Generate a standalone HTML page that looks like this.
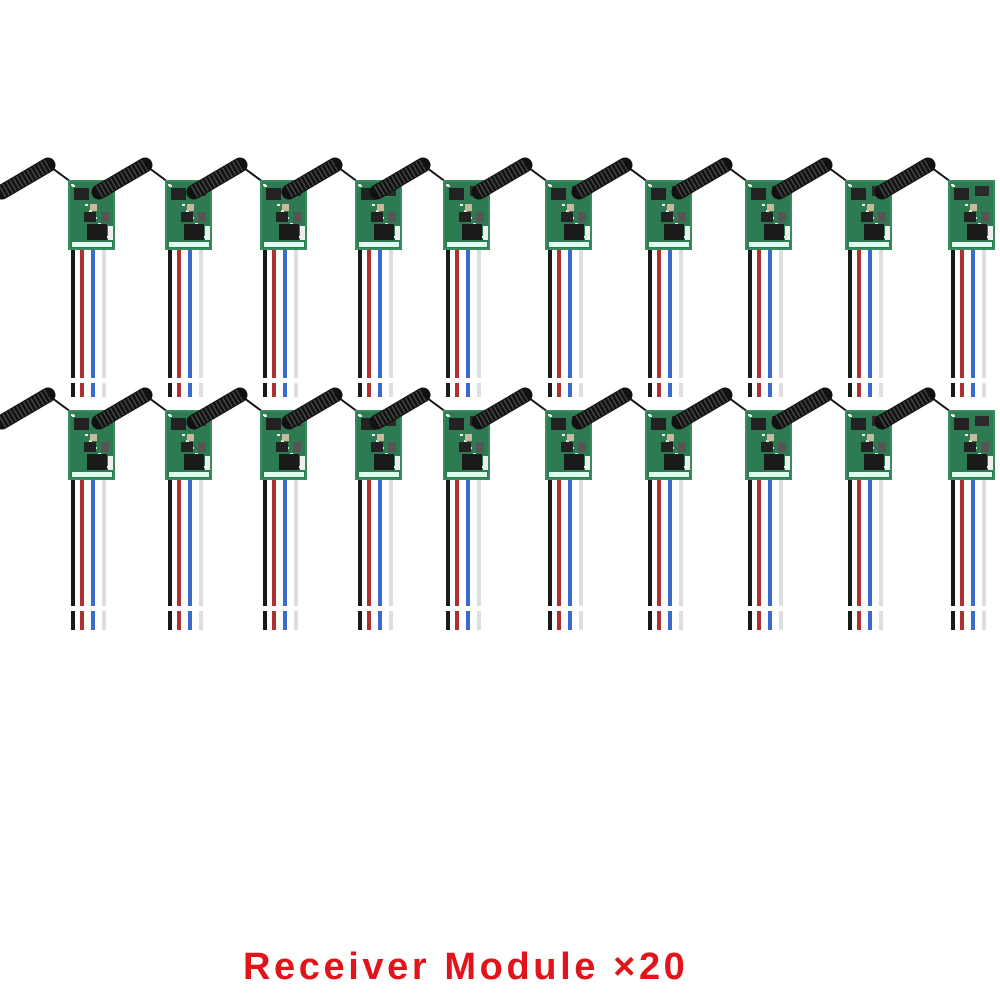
<!DOCTYPE html>
<html><head><meta charset="utf-8"><style>
html,body{margin:0;padding:0;background:#fff;}
#wrap{position:relative;width:1000px;height:1000px;overflow:hidden;}
#cap{position:absolute;left:243px;top:946px;font-family:"Liberation Sans",sans-serif;font-weight:bold;font-size:38px;letter-spacing:3.6px;color:#e0141a;white-space:nowrap;}
</style></head><body><div id="wrap">
<svg id="s" width="1000" height="1000" xmlns="http://www.w3.org/2000/svg"></svg>
<div id="cap">Receiver Module ×20</div>
</div>
<script>
var xs=[68,165,260,355,443,545,645,745,845,948];
var rows=[{y:180,gap:378,end:397},{y:410,gap:606,end:630}];
var h='';
rows.forEach(function(r){
 xs.forEach(function(x){
  var y=r.y;
  h+='<line x1="'+(x-66)+'" y1="'+(y+12)+'" x2="'+(x-20)+'" y2="'+(y-15)+'" stroke="#111" stroke-width="15" stroke-linecap="round"/>';
  h+='<line x1="'+(x-66)+'" y1="'+(y+12)+'" x2="'+(x-20)+'" y2="'+(y-15)+'" stroke="#444" stroke-width="13" stroke-dasharray="1.5 2.5"/>';
  h+='<line x1="'+(x-20)+'" y1="'+(y-15)+'" x2="'+(x+3)+'" y2="'+(y+2)+'" stroke="#111" stroke-width="2"/>';
  var cols=['#1a1a1a','#b03030','#3a6ad0','#dedede'];
  var wx=[5,14,25,36];
  for(var i=0;i<4;i++){
   h+='<line x1="'+(x+wx[i])+'" y1="'+(y+68)+'" x2="'+(x+wx[i])+'" y2="'+r.gap+'" stroke="'+cols[i]+'" stroke-width="4"/>';
   h+='<line x1="'+(x+wx[i])+'" y1="'+(r.gap+5)+'" x2="'+(x+wx[i])+'" y2="'+r.end+'" stroke="'+cols[i]+'" stroke-width="4"/>';
  }
  h+='<rect x="'+x+'" y="'+y+'" width="47" height="70" fill="#3a8a60"/>';
  h+='<rect x="'+(x+2)+'" y="'+(y+2)+'" width="43" height="66" fill="#2e7a52"/>';
  for(var k=0;k<10;k++){h+='<rect x="'+(x+3+(k*9)%40)+'" y="'+(y+4+(k*13)%58)+'" width="3" height="2" fill="#e8efe8"/>';}
  h+='<rect x="'+(x+6)+'" y="'+(y+8)+'" width="15" height="12" fill="#222"/>';
  h+='<rect x="'+(x+27)+'" y="'+(y+6)+'" width="14" height="10" fill="#2a2a2a"/>';
  h+='<rect x="'+(x+22)+'" y="'+(y+24)+'" width="7" height="7" fill="#c8b99a"/>';
  h+='<rect x="'+(x+16)+'" y="'+(y+32)+'" width="12" height="10" fill="#222"/>';
  h+='<rect x="'+(x+33)+'" y="'+(y+32)+'" width="8" height="10" fill="#555"/>';
  h+='<rect x="'+(x+19)+'" y="'+(y+44)+'" width="20" height="16" fill="#1a1a1a"/>';
  h+='<rect x="'+(x+40)+'" y="'+(y+46)+'" width="5" height="14" fill="#eee"/>';
  h+='<rect x="'+(x+4)+'" y="'+(y+62)+'" width="40" height="5" fill="#dfe"/>';
 });
});
document.getElementById('s').innerHTML=h;
</script>
</body></html>
